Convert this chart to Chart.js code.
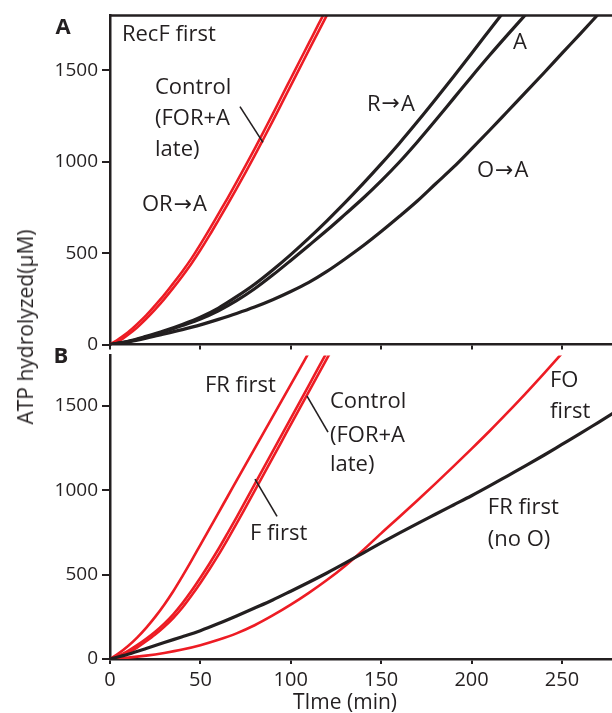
<!DOCTYPE html>
<html>
<head>
<meta charset="utf-8">
<script src="https://cdn.jsdelivr.net/npm/chart.js@4.4.1/dist/chart.umd.min.js"></script>
<style>
body{margin:0;background:#fff;}
#wrap{position:relative;width:612px;height:713px;overflow:hidden;background:#fff;}
#chartA{position:absolute;left:0;top:0;}
#chartB{position:absolute;left:0;top:340px;}
.txt{position:absolute;font-family:"Open Sans",sans-serif;color:#231f20;white-space:nowrap;transform:translate(-50%,-50%);}
</style>
</head>
<body>
<div id="wrap">
<canvas id="chartA" width="612" height="360"></canvas>
<canvas id="chartB" width="612" height="373"></canvas>
<div class="txt" style="left:25px;top:327px;font-size:21px;transform:translate(-50%,-50%) rotate(-90deg);">ATP hydrolyzed(μM)</div>
<div class="txt" style="left:345px;top:701px;font-size:21px;">TIme (min)</div>
<div class="txt" style="left:63px;top:25px;font-size:22px;font-weight:bold;">A</div>
<div class="txt" style="left:61px;top:354px;font-size:22px;font-weight:bold;">B</div>
</div>
<script>
// axes
const xTicks=[0,50,100,150,200,250];
const yTicks=[0,500,1000,1500];
const xMax=277.7;
const yMax=1800;

// time points (min)
const t5=[0,5,10,15,20,25,30,35,40,45,50,55,60,65,70,75,80,85,90,95,100,105,110,115,120,125];
const t10=[0,10,20,30,40,50,60,70,80,90,100,110,120,130,140,150,160,170,180,190,200,210,220,230,240,250,260,270,280];

// panel A : RecF first
const controlA=[0,32,68,112,160,215,272,335,400,470,548,630,715,800,888,978,1070,1165,1260,1358,1455,1552,1648,1745,1840,1935];
const orToA=[0,19,54,94,141,193,249,310,374,442,517,597,681,766,853,942,1033,1127,1222,1319,1416,1513,1610,1706,1802,1898];
const rToA=[0,18,45,75,110,150,200,262,330,408,492,582,677,776,880,988,1100,1218,1340,1465,1592,1720,1848];
const aOnly=[0,17,42,72,105,140,185,240,305,380,460,542,625,712,800,895,997,1108,1225,1345,1465,1582,1695,1805];
const oToA=[0,15,35,58,82,108,138,170,205,245,290,340,400,468,540,618,700,785,878,970,1070,1172,1276,1380,1485,1592,1698,1805];

// panel B
const frFirst=[0,35,77,127,185,250,322,402,490,582,677,772,867,962,1057,1152,1247,1342,1437,1532,1627,1722,1817,1912];
const controlB=[0,20,48,82,120,162,210,265,330,403,482,565,652,745,840,937,1035,1133,1231,1329,1427,1525,1623,1721,1819,1917];
const fFirst=[0,11,37,68,105,145,191,243,304,375,451,532,617,708,802,899,997,1095,1193,1291,1389,1487,1585,1683,1781,1879];
const foFirst=[0,8,20,36,56,82,114,152,200,258,322,392,468,552,645,745,842,940,1040,1142,1246,1352,1462,1575,1692,1812];
const frNoO=[0,28,62,98,132,168,210,255,302,350,402,455,510,568,628,688,746,803,858,913,968,1026,1086,1146,1208,1272,1336,1402,1468];

const RED="#ed1c24";
const INK="#231f20";
const FONT='"Open Sans", sans-serif';
const ARROW_FONT='22px "DejaVu Sans"';

function pts(times,vals){
return vals.map((v,i)=>({x:times[i],y:v}));
}

function line(label,times,vals,color,w){
return {label:label,data:pts(times,vals),borderColor:color,borderWidth:w||3.2,pointRadius:0,fill:false,cubicInterpolationMode:"monotone"};
}

// text with the arrow glyph taken from a font that has a proper one
function drawLabel(ctx,text,x,y){
let parts=text.split("\u2192");
let cx=x;
parts.forEach((p,i)=>{
ctx.font="22px "+FONT;
ctx.fillText(p,cx,y);
cx+=ctx.measureText(p).width;
if(i<parts.length-1){
ctx.font=ARROW_FONT;
ctx.fillText("\u2192",cx+1,y);
cx+=ctx.measureText("\u2192").width+2;
}
});
}

// curve labels and pointer lines, placed in data units
const notes={
id:"notes",
afterDraw(chart,args,opts){
const ctx=chart.ctx;
const xs=chart.scales.x, ys=chart.scales.y;
const area=chart.chartArea;
ctx.save();
if(opts.topBorder){
ctx.strokeStyle=INK;
ctx.lineWidth=2.5;
ctx.beginPath();
ctx.moveTo(area.left-1,area.top);
ctx.lineTo(area.right,area.top);
ctx.stroke();
}
ctx.strokeStyle=INK;
ctx.lineWidth=1.6;
(opts.pointers||[]).forEach(p=>{
ctx.beginPath();
ctx.moveTo(xs.getPixelForValue(p[0]),ys.getPixelForValue(p[1]));
ctx.lineTo(xs.getPixelForValue(p[2]),ys.getPixelForValue(p[3]));
ctx.stroke();
});
ctx.fillStyle=INK;
ctx.textAlign="left";
ctx.textBaseline="middle";
(opts.texts||[]).forEach(t=>{
drawLabel(ctx,t[2],xs.getPixelForValue(t[0]),ys.getPixelForValue(t[1]));
});
ctx.restore();
}
};

function makeChart(id,datasets,texts,pointers,opt){
return new Chart(document.getElementById(id),{
type:"line",
data:{datasets:datasets},
plugins:[notes],
options:{
responsive:false,
animation:false,
layout:{padding:{top:opt.padTop,left:30,right:0,bottom:0}},
plugins:{
legend:{display:false},
tooltip:{enabled:false},
notes:{texts:texts,pointers:pointers,topBorder:opt.topBorder}
},
scales:{
x:{
type:"linear",
min:0,
max:xMax,
afterBuildTicks:s=>{s.ticks=xTicks.map(v=>({value:v}));},
afterFit:s=>{s.height=opt.xHeight;},
grid:{drawOnChartArea:false,drawTicks:true,tickLength:5,color:INK,lineWidth:2},
border:{display:true,color:INK,width:2.5},
ticks:{display:opt.xLabels,color:INK,font:{family:FONT,size:20},padding:4,maxRotation:0,callback:v=>String(v)}
},
y:{
type:"linear",
min:0,
max:yMax,
afterBuildTicks:s=>{s.ticks=yTicks.map(v=>({value:v}));},
afterFit:s=>{s.width=80;},
grid:{drawOnChartArea:false,drawTicks:true,tickLength:8,color:INK,lineWidth:2},
border:{display:true,color:INK,width:2.5},
ticks:{color:INK,font:{family:FONT,size:19},padding:4,callback:v=>String(v)}
}
}
}
});
}

makeChart("chartA",[
line("R\u2192A",t10,rToA,INK),
line("A",t10,aOnly,INK),
line("O\u2192A",t10,oToA,INK),
line("OR\u2192A",t5,orToA,RED,2.6),
line("Control (FOR+A late)",t5,controlA,RED,2.6)
],[
[6.6,1696,"RecF first"],
[24.9,1404,"Control"],
[24.9,1236,"(FOR+A"],
[24.9,1068,"late)"],
[17.7,764,"OR\u2192A"],
[142.1,1312,"R\u2192A"],
[222.9,1653,"A"],
[203,948,"O\u2192A"]
],[
[71.9,1301,84.6,1106]
],{padTop:15,xHeight:13,xLabels:false,topBorder:true});

makeChart("chartB",[
line("FR first (no O)",t10,frNoO,INK),
line("FO first",t10,foFirst,RED,2.6),
line("FR first",t5,frFirst,RED,2.6),
line("F first",t5,fFirst,RED,2.6),
line("Control (FOR+A late)",t5,controlB,RED,2.6)
],[
[52.5,1623,"FR first"],
[121.7,1525,"Control"],
[121.7,1322,"(FOR+A"],
[121.7,1154,"late)"],
[77.4,742,"F first"],
[243.4,1652,"FO"],
[243.4,1467,"first"],
[209,899,"FR first"],
[209,707,"(no O)"]
],[
[109,1559,120.6,1345],
[80.2,1067,92.4,846]
],{padTop:8,xHeight:54,xLabels:true,topBorder:false});
</script>
</body>
</html>
